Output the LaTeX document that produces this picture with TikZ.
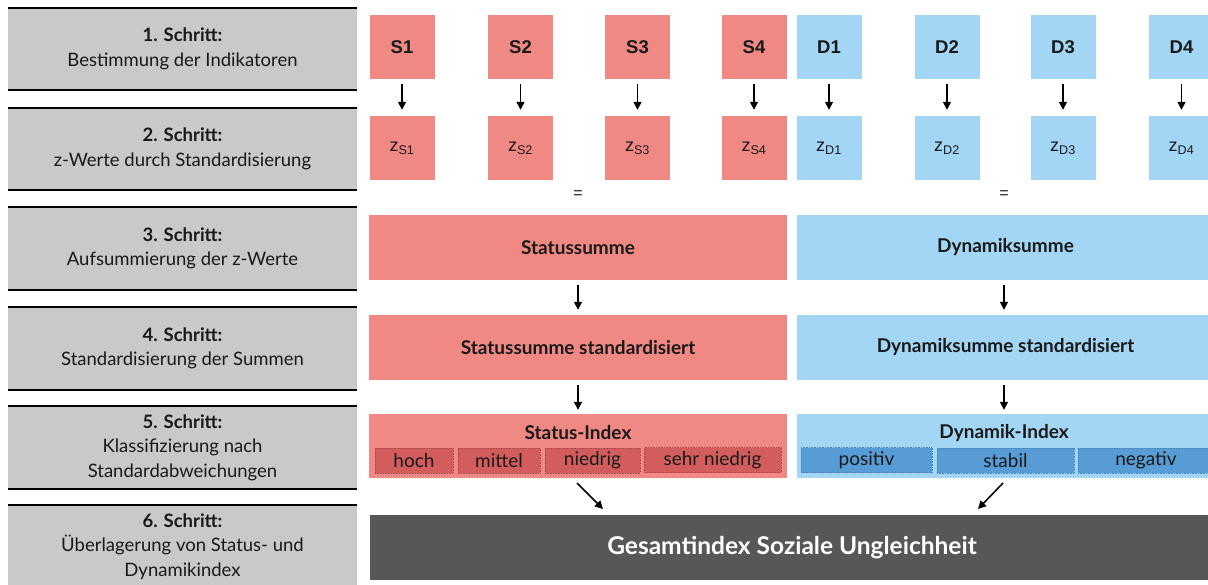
\documentclass[tikz,border=0pt]{standalone}
\usepackage{fontspec}
\setmainfont{Lato}
\newfontfamily\arialf{Liberation Sans}
\usetikzlibrary{arrows.meta,calc}
\definecolor{panel}{RGB}{201,201,201}
\definecolor{rd}{RGB}{240,136,131}
\definecolor{rdd}{RGB}{211,93,93}
\definecolor{bl}{RGB}{163,214,245}
\definecolor{bld}{RGB}{88,156,214}
\definecolor{dk}{RGB}{87,87,87}
\definecolor{txt}{RGB}{25,25,25}
\tikzset{
  x=1pt, y=-1pt,
  stepbox/.style={fill=panel, minimum width=349pt, minimum height=82pt, inner sep=0pt, align=center, text=txt, font=\fontsize{18.5}{24.5}\selectfont},
  sq/.style={minimum width=65pt, minimum height=64pt, inner sep=0pt, text=txt},
  rsq/.style={sq, fill=rd},
  bsq/.style={sq, fill=bl},
  lab/.style={font=\arialf\bfseries\fontsize{18.5}{20}\selectfont},
  zlab/.style={font=\arialf\fontsize{18}{20}\selectfont},
  wide/.style={minimum width=418pt, minimum height=65pt, inner sep=0pt, text=txt, font=\bfseries\fontsize{19}{20}\selectfont},
  sub/.style={minimum height=25pt, inner sep=0pt, text=txt, font=\fontsize{19}{20}\selectfont, line width=0.6pt, densely dotted},
  rsub/.style={sub, fill=rdd, draw=rdd!80!black},
  bsub/.style={sub, fill=bld, draw=bld!85!black},
  arr/.style={line width=1.5pt, -{Triangle[width=8pt,length=8pt]}},
  rule/.style={line width=2pt, black}
}
\begin{document}
\begin{tikzpicture}
\useasboundingbox (0,0) rectangle (1208,585);
% step panels
\node[stepbox] (g1) at (182.5,49) {\textbf{1. Schritt:}\\Bestimmung der Indikatoren};
\node[stepbox] (g2) at (182.5,149) {\textbf{2. Schritt:}\\z-Werte durch Standardisierung};
\node[stepbox, minimum height=83pt] (g3) at (182.5,248.5) {\textbf{3. Schritt:}\\Aufsummierung der z-Werte};
\node[stepbox, minimum height=83pt] (g4) at (182.5,348.5) {\textbf{4. Schritt:}\\Standardisierung der Summen};
\node[stepbox, minimum height=83pt] (g5) at (182.5,447.5) {\textbf{5. Schritt:}\\Klassifizierung nach\\Standardabweichungen};
\node[stepbox, minimum height=83pt] (g6) at (182.5,546.5) {\textbf{6. Schritt:}\\Überlagerung von Status- und\\Dynamikindex};
\foreach \g in {g1,g2,g3,g4,g5,g6}{
  \draw[rule] (\g.north west) -- (\g.north east);
  \draw[rule] (\g.south west) -- (\g.south east);
}
% indicators
\foreach \n/\x/\t in {s1/402/S1, s2/520.5/S2, s3/637.5/S3, s4/754/S4}{
  \node[rsq, lab] (\n) at (\x,47) {\t};
}
\foreach \n/\x/\t in {d1/829/D1, d2/947/D2, d3/1063/D3, d4/1181.5/D4}{
  \node[bsq, lab] (\n) at (\x,47) {\t};
}
\foreach \n/\x/\t in {zs1/402/S1, zs2/520.5/S2, zs3/637.5/S3, zs4/754/S4}{
  \node[rsq, zlab] (\n) at (\x,148) {z\textsubscript{\t}};
}
\foreach \n/\x/\t in {zd1/829/D1, zd2/947/D2, zd3/1063/D3, zd4/1181.5/D4}{
  \node[bsq, zlab] (\n) at (\x,148) {z\textsubscript{\t}};
}
\foreach \a/\b in {s1/zs1, s2/zs2, s3/zs3, s4/zs4, d1/zd1, d2/zd2, d3/zd3, d4/zd4}{
  \draw[arr, shorten <=5pt, shorten >=6pt] (\a) -- (\b);
}
\node[font=\arialf\fontsize{16}{16}\selectfont, text=txt] (eqs) at (578,195) {=};
\node[font=\arialf\fontsize{16}{16}\selectfont, text=txt] (eqd) at (1004,195) {=};
% sums
\node[wide, fill=rd] (ss) at (578,247.5) {Statussumme};
\node[wide, fill=bl, minimum width=417pt] (ds) at (1005.5,247.5) {Dynamiksumme};
\node[wide, fill=rd] (sst) at (578,347.5) {Statussumme standardisiert};
\node[wide, fill=bl, minimum width=417pt] (dst) at (1005.5,347.5) {Dynamiksumme standardisiert};
\draw[arr, shorten <=5pt, shorten >=5pt] (ss) -- (sst);
\draw[arr, shorten <=5pt, shorten >=5pt] ($(ds.south)+(-1.5,0)$) -- ($(dst.north)+(-1.5,0)$);
% indices
\node[wide, fill=rd, minimum height=64pt] (si) at (578,446) {};
\node[wide, fill=bl, minimum width=417pt, minimum height=64pt] (di) at (1005.5,446) {};
\node[text=txt, font=\bfseries\fontsize{19}{20}\selectfont] (sit) at (578,433) {Status-Index};
\node[text=txt, font=\bfseries\fontsize{19}{20}\selectfont] (dit) at (1004,433) {Dynamik-Index};
\draw[arr, shorten <=5pt, shorten >=4pt] (sst) -- (sit.north |- si.north);
\draw[arr, shorten <=5pt, shorten >=4pt] ($(dst.south)+(-1.5,0)$) -- ($(di.north)+(-1.5,0)$);
\node[rsub, minimum width=78pt] (hoch) at (414,460.5) {hoch};
\node[rsub, minimum width=82pt] (mittel) at (499,460.5) {mittel};
\node[rsub, minimum width=95pt] (niedrig) at (592.5,460.5) {niedrig};
\node[rsub, minimum width=137pt] (sehr) at (712.5,460) {sehr niedrig};
\node[bsub, minimum width=131pt] (pos) at (866.5,460) {positiv};
\node[bsub, minimum width=137pt] (stab) at (1005.5,460.5) {stabil};
\node[bsub, minimum width=136pt] (neg) at (1146,460.5) {negativ};
% total
\node[fill=dk, minimum width=844pt, minimum height=65pt, inner sep=0pt, text=white, font=\bfseries\fontsize{24.5}{26}\selectfont] (ges) at (792,547.5) {Gesamtindex Soziale Ungleichheit};
\coordinate (sa1) at (577,483);
\coordinate (sa2) at (603,509);
\coordinate (da1) at (1003,483);
\coordinate (da2) at (978,509);
\draw[arr] (sa1) -- (sa2);
\draw[arr] (da1) -- (da2);
\end{tikzpicture}
\end{document}
